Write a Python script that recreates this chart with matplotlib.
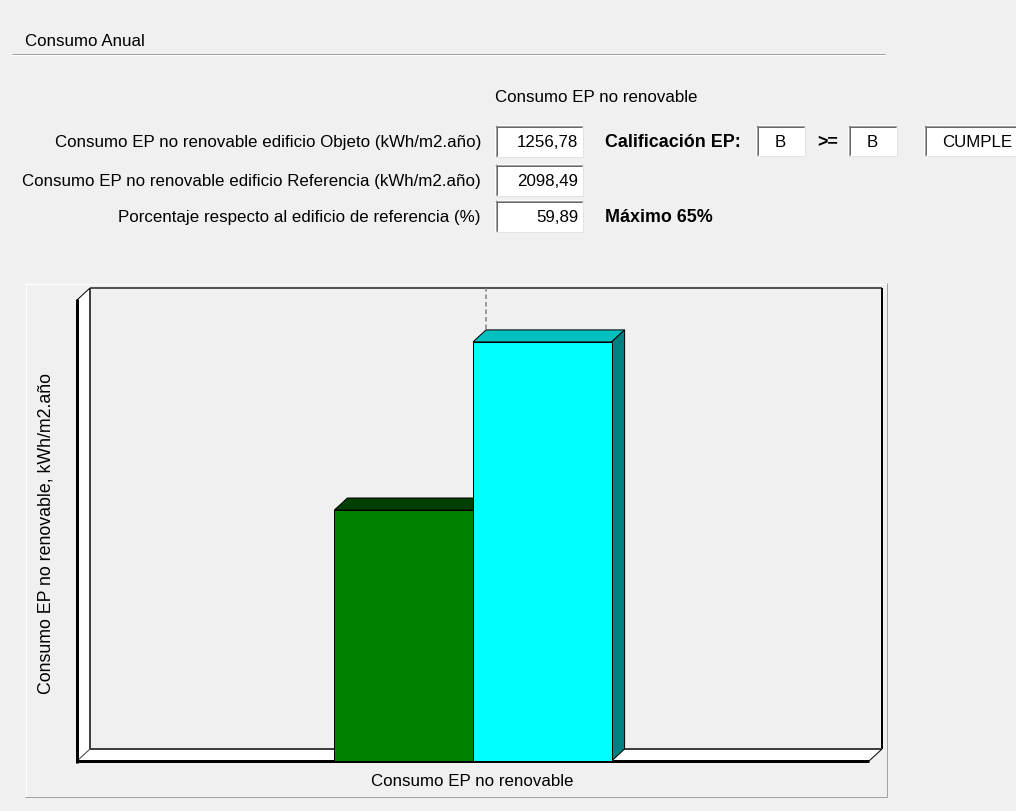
import matplotlib
matplotlib.use('Agg')
import matplotlib.pyplot as plt
from matplotlib.patches import Rectangle, Polygon
from matplotlib.transforms import IdentityTransform
import numpy as np

# ---------------- data ----------------
categoria = "Consumo EP no renovable"
series = ["Objeto", "Referencia"]
valores = [1256.78, 2098.49]           # kWh/m2.año
porcentaje = 59.89                      # %
calif_objeto = "B"
calif_limite = "B"
resultado = "CUMPLE"
maximo_pct = 65
y_label = "Consumo EP no renovable, kWh/m2.año"

front_colors = ['#008000', '#00ffff']
top_colors = ['#004000', '#00c0c0']
side_colors = ['#004000', '#008080']

W, H, DPI = 1016, 811, 100
BG = '#f0f0f0'
FONT = 'Liberation Sans'
FS = 12.2
FSB = 12.9

fig = plt.figure(figsize=(W / DPI, H / DPI), dpi=DPI, facecolor=BG)

# pixel-coordinate layer for the form
bg = fig.add_axes([0, 0, 1, 1])
bg.set_xlim(0, W)
bg.set_ylim(H, 0)
bg.axis('off')
PX = 72.0 / DPI  # one pixel in points


def fmt(v):
    return f"{v:.2f}".replace('.', ',')


def hline(x0, x1, y, c, w=1):
    bg.plot([x0, x1], [y, y], color=c, lw=w * PX, solid_capstyle='butt')


def vline(x, y0, y1, c, w=1):
    bg.plot([x, x], [y0, y1], color=c, lw=w * PX, solid_capstyle='butt')


def sunken_box(x0, y0, x1, y1):
    bg.add_patch(Rectangle((x0, y0), x1 - x0, y1 - y0, facecolor='white', edgecolor='none'))
    hline(x0, x1, y0 + 0.5, '#a0a0a0')
    vline(x0 + 0.5, y0, y1, '#a0a0a0')
    hline(x0 + 1, x1 - 1, y0 + 1.5, '#696969')
    vline(x0 + 1.5, y0 + 1, y1 - 1, '#696969')
    hline(x0, x1, y1 - 0.5, '#e3e3e3')
    vline(x1 - 0.5, y0, y1, '#e3e3e3')


def txt(x, y, s, ha='left', bold=False, **kw):
    bg.text(x, y + 1.5, s, ha=ha, va='center', fontsize=FSB if bold else FS,
            family=FONT, fontweight='bold' if bold else 'normal',
            color='black', **kw)


# header
txt(25, 40, "Consumo Anual")
hline(12, 885, 53.5, '#a0a0a0')
hline(12, 885, 54.5, '#ffffff')

txt(596, 96, categoria, ha='center')

rows_y = [141, 180, 216]
labels = ["Consumo EP no renovable edificio Objeto (kWh/m2.año)",
          "Consumo EP no renovable edificio Referencia (kWh/m2.año)",
          "Porcentaje respecto al edificio de referencia (%)"]
row_vals = [valores[0], valores[1], porcentaje]
for y, lab, v in zip(rows_y, labels, row_vals):
    txt(481, y, lab, ha='right')
    sunken_box(495, y - 16, 583, y + 16)
    txt(578, y, fmt(v), ha='right')

txt(605, rows_y[0], "Calificación EP:", bold=True)
sunken_box(756, 125, 805, 156)
txt(780.5, rows_y[0], calif_objeto, ha='center')
txt(817, rows_y[0], ">=", bold=True)
sunken_box(848, 125, 897, 156)
txt(872.5, rows_y[0], calif_limite, ha='center')
sunken_box(924, 125, 1040, 156)
txt(942, rows_y[0], resultado)
txt(605, rows_y[2], f"Máximo {maximo_pct}%", bold=True)

# chart panel border
hline(25, 887, 283.5, '#ffffff', 1)
vline(25.5, 283, 797, '#ffffff', 1)
hline(25, 887, 796.5, '#a0a0a0', 1)
vline(886.5, 283, 797, '#a0a0a0', 1)

# ---------------- chart ----------------
FL, FR, FT, FB = 77, 869, 300, 761   # front plane in pixels (top-left origin)
DX, DY = 13, 12                       # depth offset in pixels
ax = fig.add_axes([FL / W, (H - FB) / H, (FR - FL) / W, (FB - FT) / H])
ax.set_xlim(-0.5, 0.5)
ax.set_ylim(0, max(valores) * 1.1)
ax.patch.set_alpha(0)
ax.axis('off')

ID = IdentityTransform()
off = np.array([DX, DY])


def disp(points, transform):
    return transform.transform(np.asarray(points, float))


def poly(pts, fc, ec='black', lw=1, z=1):
    ax.add_patch(Polygon(pts, closed=True, facecolor=fc, edgecolor=ec,
                         lw=lw * PX, transform=ID, clip_on=False, zorder=z,
                         joinstyle='miter'))


def seg(p, q, c='black', lw=1, z=1, ls='-'):
    ax.plot([p[0], q[0]], [p[1], q[1]], color=c, lw=lw * PX, transform=ID,
            clip_on=False, zorder=z, ls=ls, solid_capstyle='butt')


A = ax.transAxes
fbl, fbr, ftl, ftr = disp([(0, 0), (1, 0), (0, 1), (1, 1)], A)
bbl, bbr, btl, btr = fbl + off, fbr + off, ftl + off, ftr + off

# back wall
poly([bbl, bbr, btr, btl], BG, ec='none', z=0.5)
# left wall and floor
poly([fbl, ftl, btl, bbl], 'white', ec='none', z=0.6)
poly([fbl, fbr, bbr, bbl], 'white', ec='none', z=0.6)
# back wall edges
seg(btl, btr, '#202020', 1.5, z=0.7)
seg(btr, bbr, 'black', 2, z=0.7)
seg(btl, bbl, '#404040', 2, z=0.7)
seg(bbl, bbr, '#404040', 2, z=0.7)
seg(ftl, btl, 'black', 1, z=0.7)
seg(fbr, bbr, 'black', 1, z=0.7)
seg(fbl, bbl, '#404040', 1, z=0.7)
# category gridline on the back wall
cx = disp([(0, 0), (0, ax.get_ylim()[1])], ax.transData)
seg(cx[0] + off, cx[1] + off, '#808080', 1.5, z=0.8, ls=(0, (3, 2)))
# front edges (thick)
seg(ftl + [0, 1], fbl - [0, 1.5], 'black', 3, z=0.9)
seg(fbl - [1.5, 0], fbr, 'black', 3, z=0.9)

# bars
n = len(valores)
bw = 0.175
xs = (np.arange(n) - (n - 1) / 2) * bw
for i, (x, v) in enumerate(zip(xs, valores)):
    z = 2 + i
    ax.bar(x, v, width=bw, color=front_colors[i], edgecolor='black',
           linewidth=1 * PX, zorder=z + 0.5)
    l, r = x - bw / 2, x + bw / 2
    p_tl, p_tr, p_br = disp([(l, v), (r, v), (r, 0)], ax.transData)
    poly([p_tl, p_tr, p_tr + off, p_tl + off], top_colors[i], z=z)
    poly([p_tr, p_br, p_br + off, p_tr + off], side_colors[i], z=z)

# axis titles
bg.text(46, 534, y_label, rotation=90, ha='center', va='center',
        fontsize=FS + 0.6, family=FONT)
bg.text(472, 782, categoria, ha='center', va='center', fontsize=FS, family=FONT)

fig.savefig('out.png', dpi=DPI, facecolor=BG)
